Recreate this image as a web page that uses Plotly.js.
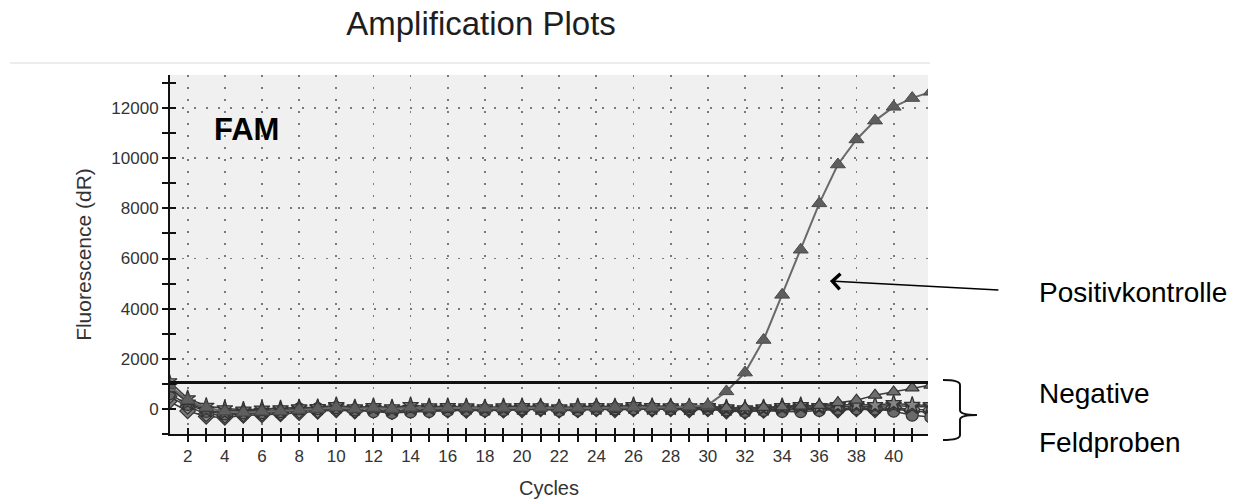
<!DOCTYPE html>
<html>
<head>
<meta charset="utf-8">
<script src="https://cdn.plot.ly/plotly-3.0.1.min.js"></script>
<style>html,body{margin:0;padding:0;background:#fff;}#chart{width:1243px;height:503px;}</style>
</head>
<body>
<div id="chart"></div>
<script>
const cycles = [1,2,3,4,5,6,7,8,9,10,11,12,13,14,15,16,17,18,19,20,21,22,23,24,25,26,27,28,29,30,31,32,33,34,35,36,37,38,39,40,41,42];
const positivkontrolle = [950,350,50,-100,-150,-110,-100,-40,0,60,0,40,0,50,20,40,50,20,40,50,50,20,40,50,50,60,50,60,100,150,700,1450,2750,4550,6350,8200,9750,10750,11500,12050,12400,12650];
const negativ1 = [1100,420,120,20,-30,10,20,60,70,150,60,110,60,150,100,110,100,60,100,110,100,60,100,110,100,150,110,100,100,110,60,20,60,110,150,110,150,190,150,230,160,150];
const negativ2 = [300,-80,-300,-340,-260,-240,-200,-150,-100,-40,-90,-50,-100,-60,-50,-50,-60,-40,-50,-40,0,-50,-40,0,-40,0,-10,0,-40,0,-90,-100,-60,-40,0,-10,-50,0,-40,10,-100,-120];
const negativ3 = [600,180,-100,-200,-160,-150,-110,0,10,50,-40,-110,-160,-120,-100,-60,-50,-60,-50,0,10,-60,-50,0,0,10,0,0,10,0,-40,-100,-60,-100,-110,-60,0,10,0,-90,-250,-320];
const negativ4 = [800,300,20,-60,-80,-40,-30,20,40,80,40,60,30,70,60,60,70,40,60,70,60,40,60,70,60,80,60,70,80,70,40,40,60,80,110,140,250,350,550,680,840,950];
const negativ5 = [900,250,-50,-150,-100,-80,-60,30,40,100,20,30,-20,40,30,40,50,20,30,50,40,20,40,50,40,90,50,40,40,50,10,-20,20,50,90,60,90,120,90,150,90,90];
const negativ6 = [500,100,-200,-260,-200,-180,-150,-70,-50,20,-50,-60,-110,-40,-50,-20,-10,-30,-20,10,30,-20,-10,30,20,40,30,30,20,40,-30,-60,-20,0,40,30,10,60,20,60,-20,-40];
const threshold = 1050;
const yTickVals = [0,2000,4000,6000,8000,10000,12000];

const negSeries = [
  {y: negativ2, sym: 'diamond', fill: '#7a7a7a'},
  {y: negativ6, sym: 'diamond', fill: '#8c8c8c'},
  {y: negativ3, sym: 'circle', fill: '#6a6a6a'},
  {y: negativ5, sym: 'star', fill: '#5a5a5a'},
  {y: negativ1, sym: 'star', fill: '#858585'},
  {y: negativ4, sym: 'triangle-up', fill: '#6e6e6e'}
];

const traces = negSeries.map(s => ({
  x: cycles, y: s.y, type: 'scatter', mode: 'lines+markers',
  line: {color: '#3a3a3a', width: 1.5},
  marker: {symbol: s.sym, size: 12, color: s.fill, line: {color: '#333', width: 1.2}},
  showlegend: false, hoverinfo: 'skip'
}));
traces.push({
  x: cycles, y: positivkontrolle, type: 'scatter', mode: 'lines+markers',
  line: {color: '#6a6a6a', width: 2},
  marker: {symbol: 'triangle-up', size: 13, color: '#5e5e5e', line: {color: '#4a4a4a', width: 1}},
  showlegend: false, hoverinfo: 'skip'
});
traces.push({x: [null], y: [null], xaxis: 'x2', yaxis: 'y2', type: 'scatter', mode: 'markers', showlegend: false, hoverinfo: 'skip'});

const fontFam = 'Liberation Sans, Arial, sans-serif';
const xr = [1.05, 41.85];
const yr = [-1000, 13320];

const layout = {
  width: 1243, height: 503,
  margin: {l: 170, r: 315, t: 75, b: 69},
  paper_bgcolor: '#ffffff', plot_bgcolor: '#f0f0f0',
  showlegend: false,
  title: {text: 'Amplification Plots', x: 0.387, xref: 'container', xanchor: 'center', y: 0.954, yref: 'container', yanchor: 'middle', font: {family: fontFam, size: 33, color: '#1e1e1e'}},
  xaxis: {
    range: xr, dtick: 2, tick0: 0, showline: true, linecolor: '#111', linewidth: 2,
    ticks: 'outside', ticklen: 6, tickwidth: 2, tickcolor: '#111',
    minor: {dtick: 1, tick0: 0, ticks: 'outside', ticklen: 6, tickwidth: 2, tickcolor: '#111', showgrid: false},
    showgrid: true, gridcolor: '#7a7a7a', gridwidth: 1.8, griddash: '2px,10px',
    zeroline: false, tickfont: {family: fontFam, size: 17, color: '#333'},
    ticklabelstandoff: 0,
    title: {text: 'Cycles', font: {family: fontFam, size: 20, color: '#333'}, standoff: 16},
    fixedrange: true
  },
  yaxis: {
    range: yr, tickvals: yTickVals, tickformat: 'd', showline: true, linecolor: '#111', linewidth: 2,
    ticks: 'outside', ticklen: 6, tickwidth: 2, tickcolor: '#111',
    minor: {dtick: 1000, tick0: 0, ticks: 'outside', ticklen: 6, tickwidth: 2, tickcolor: '#111', showgrid: false},
    showgrid: true, gridcolor: '#7a7a7a', gridwidth: 1.8, griddash: '2px,10px',
    zeroline: false, tickfont: {family: fontFam, size: 17, color: '#333'},
    title: {text: 'Fluorescence (dR)', font: {family: fontFam, size: 21, color: '#333'}, standoff: 14},
    fixedrange: true
  },
  xaxis2: {
    overlaying: 'x', matches: 'x', range: xr, anchor: 'y2', side: 'bottom', dtick: 1, tick0: 0,
    ticks: 'inside', ticklen: 6, tickwidth: 2, tickcolor: '#111', showticklabels: false,
    showgrid: false, zeroline: false, showline: false, fixedrange: true
  },
  yaxis2: {
    overlaying: 'y', matches: 'y', range: yr, anchor: 'x2', side: 'left', dtick: 1000, tick0: 0,
    ticks: 'inside', ticklen: 6, tickwidth: 2, tickcolor: '#111', showticklabels: false,
    showgrid: false, zeroline: false, showline: false, fixedrange: true
  },
  shapes: [
    {type: 'line', xref: 'paper', yref: 'y', x0: 0, x1: 1, y0: threshold, y1: threshold, line: {color: '#111', width: 3}},
    {type: 'line', xref: 'paper', yref: 'paper', x0: -0.211, x1: 1.0026, y0: 1.0334, y1: 1.0334, line: {color: '#ececec', width: 2}},
    {type: 'path', xref: 'paper', yref: 'paper',
     path: 'M 1.0198,0.1504 Q 1.0422,0.1504 1.0422,0.1365 L 1.0422,0.0669 Q 1.0422,0.0529 1.0646,0.0529 Q 1.0422,0.0529 1.0422,0.0390 L 1.0422,-0.0028 Q 1.0422,-0.0167 1.0198,-0.0167',
     line: {color: '#111', width: 2}}
  ],
  annotations: [
    {text: '<b>FAM</b>', xref: 'paper', yref: 'paper', x: 0.1009, y: 0.8468, xanchor: 'center', yanchor: 'middle', showarrow: false, font: {family: fontFam, size: 31, color: '#000'}},
    {text: '', xref: 'x', yref: 'y', x: 36.57, y: 5100, ax: 170, ay: 9, showarrow: true, arrowhead: 4, arrowsize: 2, arrowwidth: 1.5, arrowcolor: '#000'},
    {text: 'Positivkontrolle', xref: 'paper', yref: 'paper', x: 1.1438, y: 0.3955, xanchor: 'left', yanchor: 'middle', showarrow: false, font: {family: fontFam, size: 28, color: '#000'}},
    {text: 'Negative', xref: 'paper', yref: 'paper', x: 1.1438, y: 0.1142, xanchor: 'left', yanchor: 'middle', showarrow: false, font: {family: fontFam, size: 28, color: '#000'}},
    {text: 'Feldproben', xref: 'paper', yref: 'paper', x: 1.1438, y: -0.0223, xanchor: 'left', yanchor: 'middle', showarrow: false, font: {family: fontFam, size: 28, color: '#000'}}
  ]
};

Plotly.newPlot('chart', traces, layout, {displayModeBar: false, staticPlot: true});
</script>
</body>
</html>
